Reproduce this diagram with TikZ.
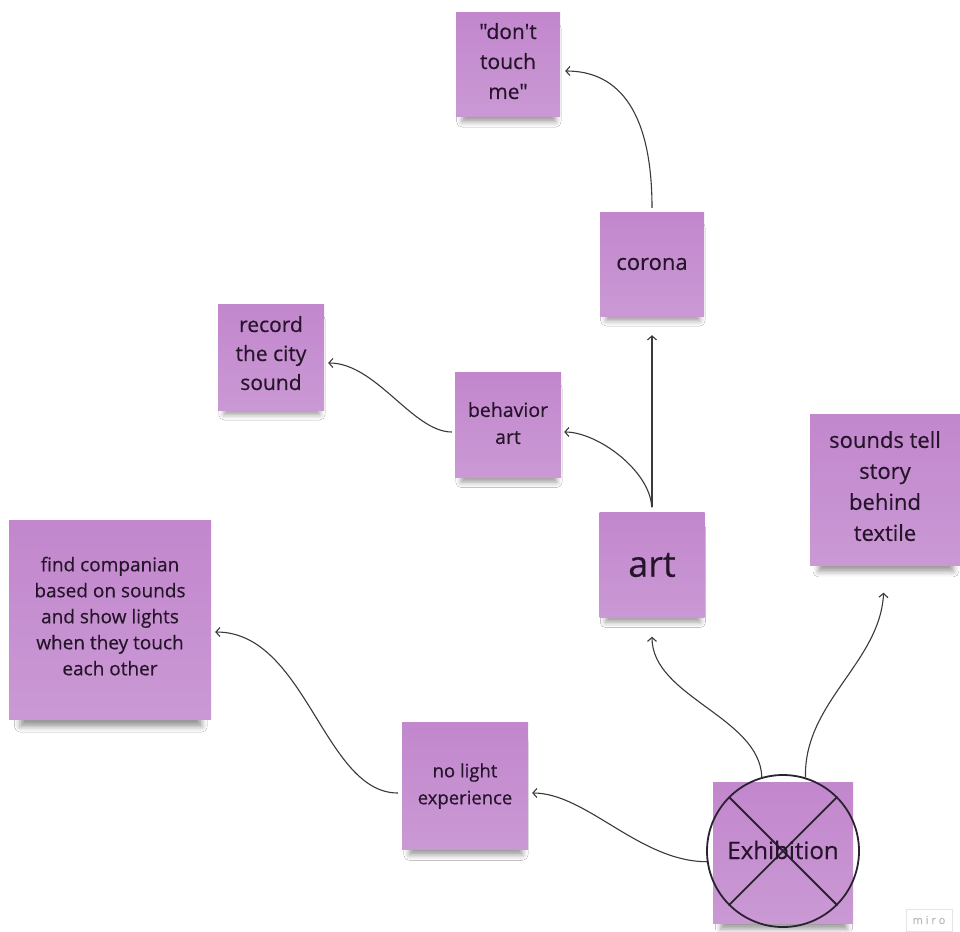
\documentclass[tikz,border=0pt]{standalone}
\usepackage{fontspec}
\setmainfont{Open Sans}[Ligatures=TeXOff, FakeBold=0.4]
\usetikzlibrary{arrows.meta,shadows.blur}

\definecolor{notetop}{HTML}{C287CD}
\definecolor{notebot}{HTML}{CA99D4}
\definecolor{ink}{HTML}{26142B}
\definecolor{wire}{HTML}{3A3A3A}
\definecolor{ringcol}{HTML}{2A2230}

\newcommand{\fs}[2]{\fontsize{#1}{#2}\selectfont}
% extra depth on the last line lifts a text block inside its note
\newcommand{\lift}{\rule[-8pt]{0pt}{8pt}}

\begin{document}
\begin{tikzpicture}[x=1pt,y=-1pt,
  note/.style={top color=notetop, bottom color=notebot, draw=none,
    inner sep=0pt, align=center, text=ink,
    blur shadow={shadow xshift=1pt, shadow yshift=#1, shadow scale=0.9,
      shadow blur radius=6pt, shadow opacity=40}},
  note/.default=-11pt,
  link/.style={draw=wire, line width=1.1pt,
    -{Straight Barb[length=4pt,width=9pt]}},
  ringline/.style={draw=ringcol, line width=1.8pt}]

\useasboundingbox[fill=white] (0,0) rectangle (960,931);

% sticky notes
\node[note, minimum width=104pt, minimum height=104pt, font=\fs{21}{30}]
  (dtm) at (508,65) {"don't\\touch\\me"\lift};
\node[note, minimum width=104pt, minimum height=104pt, font=\fs{22}{28}]
  (corona) at (652,264) {corona};
\node[note, minimum width=106pt, minimum height=106pt, font=\fs{21}{29}]
  (record) at (271,357) {record\\the city\\sound\lift};
\node[note, minimum width=106pt, minimum height=105pt, font=\fs{19.5}{27}]
  (behav) at (508,425) {behavior\\art\rule[-4pt]{0pt}{4pt}};
\node[note=-15pt, minimum width=150pt, minimum height=151pt, font=\fs{22}{31}]
  (sounds) at (885,490) {sounds tell\\story\\behind\\textile\lift};
\node[note=-19pt, minimum width=202pt, minimum height=199pt, font=\fs{19}{26}]
  (find) at (110,620) {find companian\\based on sounds\\and show lights\\when they touch\\each other\lift};
\node[note, minimum width=105pt, minimum height=105pt, font=\fs{36}{36}]
  (art) at (652,565) {art};
\node[note=-13pt, minimum width=126pt, minimum height=127pt, font=\fs{18.5}{27}]
  (nolight) at (465,786) {no light\\experience};
\node[note=-14pt, minimum width=140pt, minimum height=141pt]
  (exh) at (783,853) {};

% crossed circle over the exhibition note
\node[circle, ringline, minimum size=152pt, inner sep=0pt] (ring) at (783,851) {};
\draw[ringline] (ring.45) -- (ring.225);
\draw[ringline] (ring.135) -- (ring.-45);
\node[text=ink, font=\fs{24}{24}] (exhlabel) at (783,850) {Exhibition};

% connectors
\draw[link, shorten <=4pt, shorten >=5pt]
  (corona.north) .. controls +(0,-98) and +(60,0) .. ([yshift=-6pt]dtm.east);
\draw[link, shorten <=5pt, shorten >=19pt] (art.north) -- (corona.south);
\draw[link, shorten <=5pt, shorten >=3pt]
  (art.north) .. controls +(-2,-42) and +(36,0) .. ([yshift=-7pt]behav.east);
\draw[link, shorten <=3pt, shorten >=4pt]
  ([yshift=-7pt]behav.west) .. controls +(-42,0) and +(52,0) .. ([yshift=-6pt]record.east);
\draw[link, shorten >=19pt]
  (ring.106) .. controls +(-2,-60) and +(0,79) .. (art.south);
\draw[link, shorten >=27pt]
  (ring.73) .. controls +(-2,-75) and +(-5,97) .. (sounds.south);
\draw[link, shorten >=4pt]
  (ring.188) .. controls +(-67,0) and +(58,0) .. ([yshift=-7pt]nolight.east);
\draw[link, shorten <=4pt, shorten >=4pt]
  ([yshift=-7pt]nolight.west) .. controls +(-78,0) and +(95,0) .. ([yshift=-12pt]find.east);

% watermark badge
\node[draw=gray!20, text=gray!55, font=\fs{11}{11}, minimum width=46pt,
  minimum height=22pt, inner sep=0pt] (badge) at (929,920) {m i r o};
\end{tikzpicture}
\end{document}
